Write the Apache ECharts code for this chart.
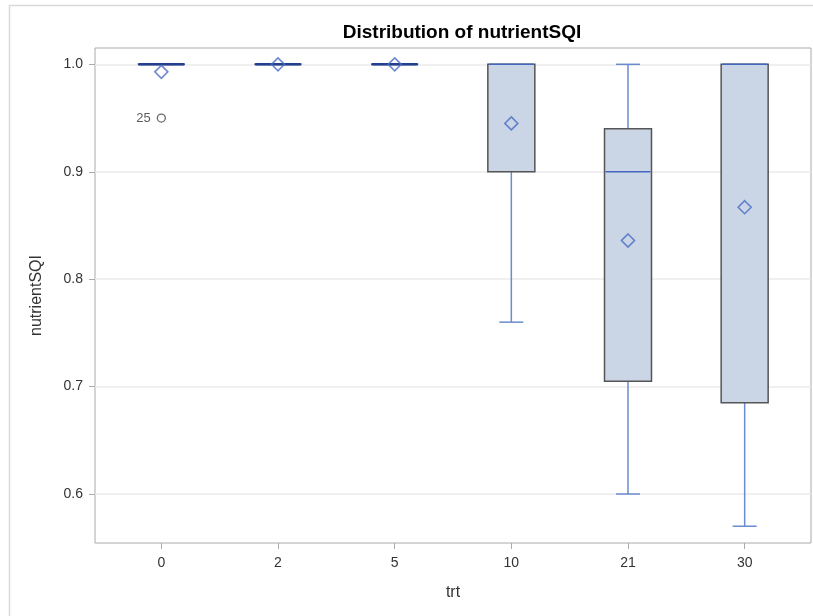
<!DOCTYPE html>
<html>
<head>
<meta charset="utf-8">
<script src="https://cdn.jsdelivr.net/npm/echarts@6/dist/echarts.min.js"></script>
<style>
  html, body { margin: 0; padding: 0; background: #fff; }
  #chart { width: 813px; height: 616px; }
</style>
</head>
<body>
<div id="chart"></div>
<script>
// values
const trt = ['0', '2', '5', '10', '21', '30'];
const whiskerLow = [1.0, 1.0, 1.0, 0.76, 0.6, 0.57];
const q1 = [1.0, 1.0, 1.0, 0.9, 0.705, 0.685];
const median = [1.0, 1.0, 1.0, 1.0, 0.9, 1.0];
const q3 = [1.0, 1.0, 1.0, 1.0, 0.94, 1.0];
const whiskerHigh = [1.0, 1.0, 1.0, 1.0, 1.0, 1.0];
const means = [0.993, 1.0, 1.0, 0.945, 0.836, 0.867];
const outliers = [[0, 0.95, '25']];
const yTicks = [0.6, 0.7, 0.8, 0.9, 1.0];

const Y_MIN = 0.5544;
const Y_MAX = 1.0152;
const BOX_W = 47;
const CAP_W = 24;

const chart = echarts.init(document.getElementById('chart'));

const boxData = trt.map((t, i) => [i, whiskerLow[i], q1[i], median[i], q3[i], whiskerHigh[i]]);

function renderBox(params, api) {
  const i = api.value(0);
  const pLow = api.coord([i, api.value(1)]);
  const pQ1 = api.coord([i, api.value(2)]);
  const pMed = api.coord([i, api.value(3)]);
  const pQ3 = api.coord([i, api.value(4)]);
  const pHigh = api.coord([i, api.value(5)]);
  const x = pQ1[0];
  const whiskerStyle = { stroke: '#6a8bd0', lineWidth: 1.5 };
  const children = [];
  if (pLow[1] - pQ1[1] > 0.5) {
    children.push({ type: 'line', shape: { x1: x, y1: pQ1[1], x2: x, y2: pLow[1] }, style: whiskerStyle });
    children.push({ type: 'line', shape: { x1: x - CAP_W / 2, y1: pLow[1], x2: x + CAP_W / 2, y2: pLow[1] }, style: whiskerStyle });
  }
  if (pQ3[1] - pHigh[1] > 0.5) {
    children.push({ type: 'line', shape: { x1: x, y1: pHigh[1], x2: x, y2: pQ3[1] }, style: whiskerStyle });
    children.push({ type: 'line', shape: { x1: x - CAP_W / 2, y1: pHigh[1], x2: x + CAP_W / 2, y2: pHigh[1] }, style: whiskerStyle });
  }
  const flat = Math.abs(pQ1[1] - pQ3[1]) < 0.5;
  children.push({
    type: 'rect',
    shape: { x: x - BOX_W / 2, y: pQ3[1], width: BOX_W, height: pQ1[1] - pQ3[1] },
    style: { fill: '#cad5e6', stroke: flat ? '#1f3a85' : '#555555', lineWidth: flat ? 2 : 1.5 }
  });
  children.push({
    type: 'line',
    shape: { x1: x - BOX_W / 2 + 1, y1: pMed[1], x2: x + BOX_W / 2 - 1, y2: pMed[1] },
    style: { stroke: flat ? '#23408f' : '#4468c0', lineWidth: flat ? 2.5 : 1.5 }
  });
  return { type: 'group', children: children };
}

const option = {
  animation: false,
  title: {
    text: 'Distribution of nutrientSQI',
    left: 457,
    textAlign: 'center',
    top: 18,
    textStyle: { fontFamily: 'Liberation Sans', fontSize: 19, fontWeight: 'bold', color: '#000' }
  },
  graphic: [
    {
      type: 'polyline',
      shape: { points: [[9.5, 616], [9.5, 5.5], [813, 5.5]] },
      style: { stroke: '#d9d9d9', lineWidth: 1.5, fill: null },
      silent: true
    }
  ],
  grid: [
    { left: 95, right: 2, top: 48, bottom: 73, show: true, borderColor: '#aaaaaa', borderWidth: 1 },
    { left: 103, right: 10, top: 48, bottom: 73 }
  ],
  xAxis: [
    { type: 'value', gridIndex: 0, show: false, min: 0, max: 1 },
    {
      type: 'category',
      gridIndex: 1,
      data: trt,
      boundaryGap: true,
      name: 'trt',
      nameLocation: 'middle',
      nameGap: 42,
      nameTextStyle: { fontFamily: 'Liberation Sans', fontSize: 16, color: '#333' },
      axisLine: { show: false },
      axisTick: { show: true, alignWithLabel: true, length: 6, lineStyle: { color: '#aaaaaa' } },
      axisLabel: { margin: 13, fontFamily: 'Liberation Sans', fontSize: 14, color: '#333' },
      splitLine: { show: false }
    }
  ],
  yAxis: [
    {
      type: 'value',
      gridIndex: 0,
      min: Y_MIN,
      max: Y_MAX,
      name: 'nutrientSQI',
      nameLocation: 'middle',
      nameGap: 50,
      nameRotate: 90,
      nameTextStyle: { fontFamily: 'Liberation Sans', fontSize: 16, color: '#333' },
      axisLine: { show: false },
      axisTick: { show: true, customValues: yTicks, length: 6, lineStyle: { color: '#aaaaaa' } },
      axisLabel: {
        customValues: yTicks,
        margin: 12,
        fontFamily: 'Liberation Sans',
        fontSize: 14,
        color: '#333',
        formatter: (v) => v.toFixed(1)
      },
      splitLine: { show: true, lineStyle: { color: '#ebebeb', width: 1.5 } }
    },
    { type: 'value', gridIndex: 1, min: Y_MIN, max: Y_MAX, show: false }
  ],
  series: [
    {
      type: 'custom',
      xAxisIndex: 1,
      yAxisIndex: 1,
      data: boxData,
      renderItem: renderBox,
      z: 2
    },
    {
      type: 'scatter',
      xAxisIndex: 1,
      yAxisIndex: 1,
      data: means.map((m, i) => [i, m]),
      symbol: 'diamond',
      symbolSize: [13, 13],
      itemStyle: { color: 'rgba(0,0,0,0)', borderColor: '#4a6cc4', borderWidth: 1.6 },
      z: 5
    },
    {
      type: 'scatter',
      xAxisIndex: 1,
      yAxisIndex: 1,
      data: outliers.map((o) => [o[0], o[1], o[2]]),
      symbol: 'circle',
      symbolSize: 8,
      itemStyle: { color: 'rgba(0,0,0,0)', borderColor: '#444', borderWidth: 1.3 },
      label: {
        show: true,
        position: 'left',
        distance: 6,
        formatter: (p) => p.value[2],
        fontFamily: 'Liberation Sans',
        fontSize: 13,
        color: '#333'
      },
      z: 5
    }
  ]
};

chart.setOption(option);
</script>
</body>
</html>
